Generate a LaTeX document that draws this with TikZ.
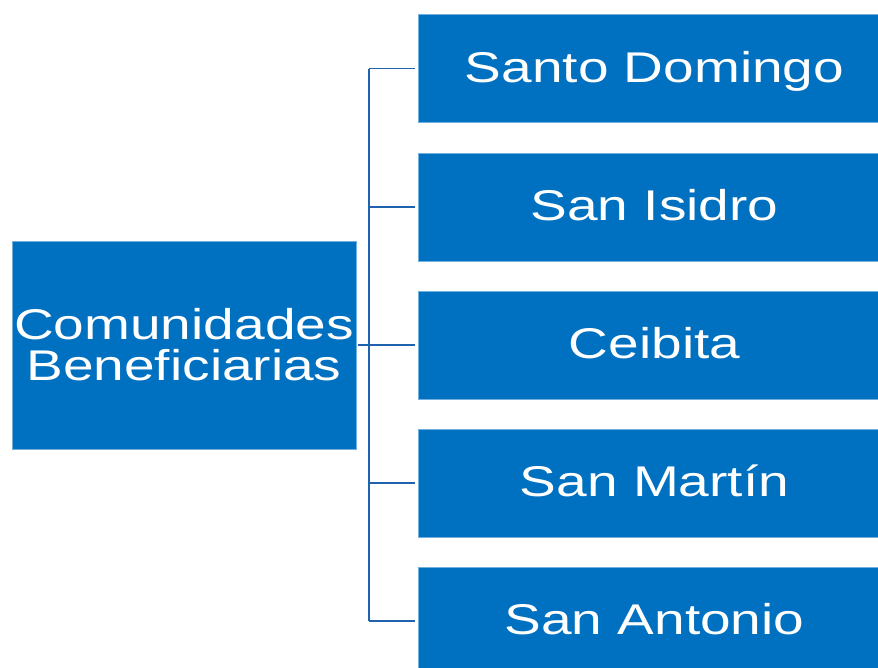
\documentclass[tikz,border=0pt]{standalone}
\usepackage{fontspec}
\setmainfont[FakeStretch=1.28]{Liberation Sans}
\definecolor{boxblue}{HTML}{0070C0}
\definecolor{lineblue}{HTML}{1F63AE}
\begin{document}
\begin{tikzpicture}[x=1pt,y=-1pt,
  cbox/.style={fill=boxblue, draw=boxblue!55!white, line width=0.6pt, inner sep=0pt,
    text=white, font=\fontsize{43}{41}\selectfont, align=center},
  leaf/.style={cbox, minimum width=473pt, minimum height=108pt, text height=31pt, text depth=4pt},
  conn/.style={draw=lineblue, line width=1.6pt}]
\useasboundingbox (0,0) rectangle (878,667);
\clip (0,0) rectangle (878,667);
\node[cbox, minimum width=344pt, minimum height=208pt] (root) at (184,345) {Comunidades\\Beneficiarias};
\node[leaf] (b1) at (654.5,68.5) {Santo Domingo};
\node[leaf] (b2) at (654.5,207) {San Isidro};
\node[leaf] (b3) at (654.5,345) {Ceibita};
\node[leaf] (b4) at (654.5,483) {San Martín};
\node[leaf] (b5) at (654.5,621) {San Antonio};
\coordinate (trunk) at (369,345);
\draw[conn, shorten >=3pt] (b1.west -| trunk) -- (b1.west);
\draw[conn, shorten >=3pt] (b2.west -| trunk) -- (b2.west);
\draw[conn, shorten >=3pt, shorten <=2pt] (root.east) -- (b3.west);
\draw[conn, shorten >=3pt] (b4.west -| trunk) -- (b4.west);
\draw[conn, shorten >=3pt] (b5.west -| trunk) -- (b5.west);
\draw[conn] (b1.west -| trunk) -- (b5.west -| trunk);
\end{tikzpicture}
\end{document}
